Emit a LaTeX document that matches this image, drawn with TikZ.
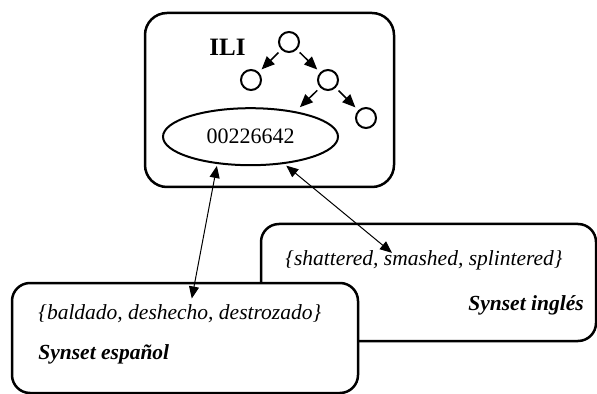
\documentclass[tikz,border=0pt]{standalone}
\usepackage{fontspec}
\setmainfont{Liberation Serif}
\usetikzlibrary{arrows.meta, shapes.geometric, calc}

\begin{document}
\begin{tikzpicture}[x=0.5pt, y=-0.5pt,
  every node/.style={font=\fontsize{11}{13}\selectfont},
  synbox/.style={draw, line width=1.25pt, rounded corners=9pt, fill=white, inner sep=0pt},
  knot/.style={draw, circle, line width=1pt, minimum size=10pt, inner sep=0pt},
  treearrow/.style={-{Triangle[length=6.5pt, width=5.5pt]}, line width=0.75pt, shorten >=2pt, shorten <=2pt},
  linkarrow/.style={{Triangle[length=6pt, width=5pt]}-{Triangle[length=6pt, width=5pt]}, line width=0.5pt},
  gloss/.style={anchor=west, inner sep=1.5pt, font=\fontsize{10.75}{13}\selectfont\itshape},
  glosshead/.style={gloss, font=\fontsize{10.75}{13}\selectfont\bfseries\itshape}]
  \useasboundingbox (0,0) rectangle (597,394);
  % ILI box
  \node[synbox, rounded corners=11pt, minimum width=124.5pt, minimum height=87pt] (ili) at (269.5,100) {};
  \node[font=\fontsize{12.5}{14}\selectfont\bfseries] (ililabel) at (227.5,47) {ILI};
  % tree
  \node[knot] (root) at (289,42) {};
  \node[knot] (lchild) at (251,80) {};
  \node[knot] (rchild) at (328,80) {};
  \node[knot] (leaf) at (366,118) {};
  \coordinate (treeend) at (297,110);
  \draw[treearrow] (root) -- (lchild);
  \draw[treearrow] (root) -- (rchild);
  \draw[treearrow] (rchild) -- (leaf);
  \draw[treearrow] (rchild) -- (treeend);
  \node[draw, ellipse, line width=1pt, minimum width=87.5pt, minimum height=28.5pt, inner sep=0pt, outer sep=1.5pt] (synid) at (250.5,136.7) {00226642};
  % English synset
  \node[synbox, minimum width=167.5pt, minimum height=58.5pt] (en) at (428.5,282.5) {};
  \node[gloss] (entext) at (282,260) {\{shattered, smashed, splintered\}};
  \node[glosshead] (enlabel) at (465,305) {Synset inglés};
  % Spanish synset
  \node[synbox, minimum width=173pt, minimum height=55pt] (es) at (185,338) {};
  \node[gloss] (estext) at (35,314) {\{baldado, deshecho, destrozado\}};
  \node[glosshead] (eslabel) at (35,354) {Synset español};
  % links
  \draw[linkarrow] (synid.221) -- ($(estext.north)+(12,-3)$);
  \draw[linkarrow] (synid.321) -- ($(entext.north)+(-32,6)$);
\end{tikzpicture}
\end{document}
